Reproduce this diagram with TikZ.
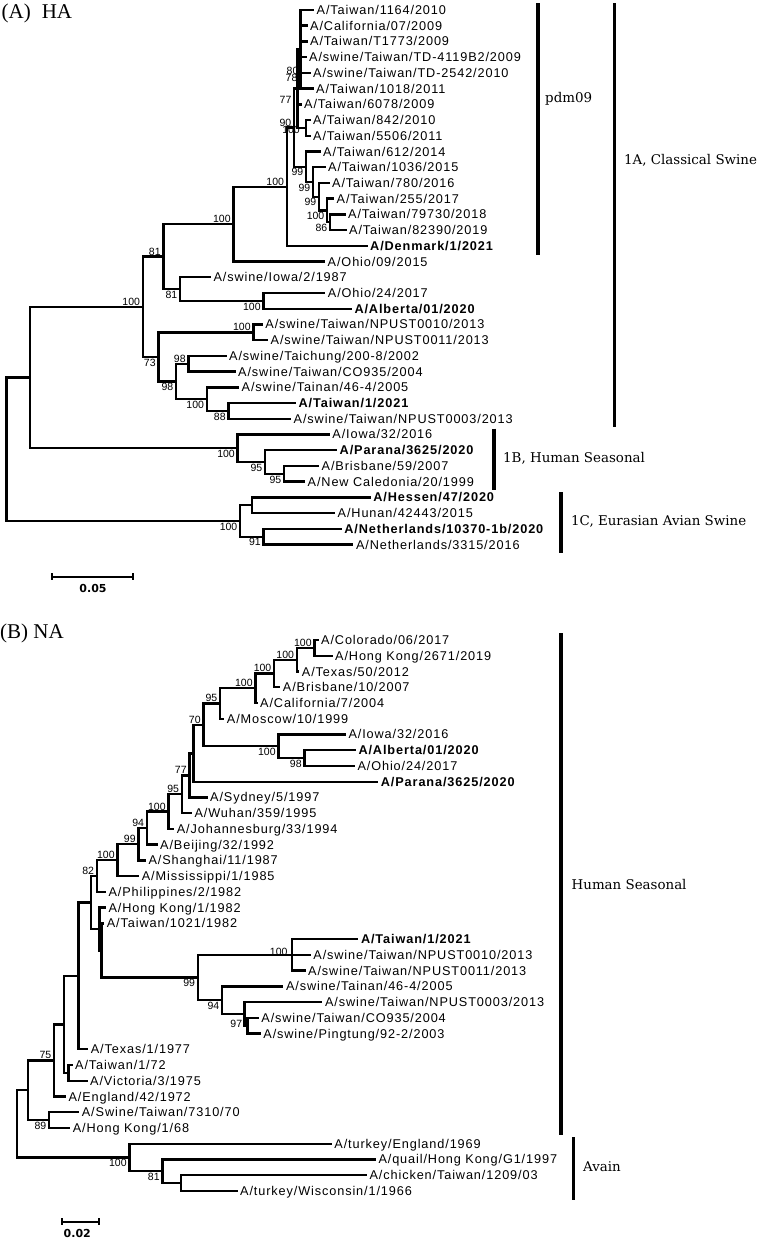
\documentclass[tikz,border=0pt]{standalone}
\usepackage{fontspec}
\newfontfamily\tipff[LetterSpace=7]{Liberation Sans}
\newfontfamily\bsff{Liberation Sans}
\newfontfamily\cladeff{DejaVu Serif}
\newfontfamily\headff{Liberation Serif}
\newfontfamily\scaleff{DejaVu Sans}

\begin{document}
\begin{tikzpicture}[x=1pt,y=-1pt,
    branch/.style={line width=2.4pt},
    cladebar/.style={line width=3.8pt},
    scalebar/.style={line width=2.1pt},
    tip/.style={anchor=west,inner xsep=2.5pt,inner ysep=0pt,text height=9pt,text depth=0pt,font=\tipff\fontsize{12.7}{13}\selectfont},
    btip/.style={tip,font=\tipff\bfseries\fontsize{12.7}{13}\selectfont},
    bs/.style={inner sep=0pt,text height=7.6pt,text depth=0pt,font=\bsff\fontsize{10.5}{11}\selectfont},
    bsup/.style={bs,anchor=south east,xshift=-2.5pt,yshift=1.4pt},
    bsdn/.style={bs,anchor=north east,xshift=-2.5pt,yshift=-1.4pt},
    clade/.style={anchor=west,inner sep=0pt,font=\cladeff\fontsize{13.4}{14}\selectfont},
    head/.style={anchor=base west,inner sep=0pt,font=\headff\fontsize{21}{22}\selectfont},
    scaletext/.style={inner sep=0pt,font=\scaleff\bfseries\fontsize{11}{12}\selectfont}]
  \useasboundingbox (0,0) rectangle (762,1239);

  % ---------------- (A) HA ----------------
  \node[head] (headA) at (1.5,18.5) {(A)\hspace{11pt}HA};

  \coordinate (hRoot) at (6.5,449.2);
  \coordinate (hN1) at (30,377.5);
  \coordinate (hN2) at (142.7,306.7);
  \coordinate (hN3) at (163.3,256.6);
  \coordinate (hN4) at (233.3,224.1);
  \coordinate (hP) at (286.7,186.7);
  \coordinate (hQ) at (294,127.6);
  \coordinate (hQ1) at (297.5,88.6);
  \coordinate (hQ2) at (300.5,49.3);
  \coordinate (hK) at (306,127.9);
  \coordinate (hR) at (306,166.7);
  \coordinate (hS) at (313,181.9);
  \coordinate (hT) at (319,196.7);
  \coordinate (hU) at (327,210.4);
  \coordinate (hV) at (330,222.2);
  \coordinate (hN7) at (180,289);
  \coordinate (hN8) at (263.3,300.8);
  \coordinate (hN6) at (158.3,356.8);
  \coordinate (hN5) at (253.3,332.3);
  \coordinate (hN9) at (176,381.4);
  \coordinate (hN10) at (188.3,363.7);
  \coordinate (hN11) at (206.7,399.1);
  \coordinate (hN12) at (228.3,410.9);
  \coordinate (hB1) at (237.5,448.2);
  \coordinate (hB2) at (265,462);
  \coordinate (hB3) at (284,473.8);
  \coordinate (hC1) at (240,521);
  \coordinate (hC2) at (252,505.2);
  \coordinate (hC3) at (263.5,536.7);

  \node[tip] (ht1) at (314,10) {A/Taiwan/1164/2010};
  \node[tip] (ht2) at (307.5,25.7) {A/California/07/2009};
  \node[tip] (ht3) at (307.5,41.4) {A/Taiwan/T1773/2009};
  \node[tip] (ht4) at (306.5,57.2) {A/swine/Taiwan/TD-4119B2/2009};
  \node[tip] (ht5) at (310.5,72.9) {A/swine/Taiwan/TD-2542/2010};
  \node[tip] (ht6) at (313.5,88.6) {A/Taiwan/1018/2011};
  \node[tip] (ht7) at (301.5,104.3) {A/Taiwan/6078/2009};
  \node[tip] (ht8) at (310.5,120) {A/Taiwan/842/2010};
  \node[tip] (ht9) at (310.5,135.8) {A/Taiwan/5506/2011};
  \node[tip] (ht10) at (320.5,151.5) {A/Taiwan/612/2014};
  \node[tip] (ht11) at (325.5,167.2) {A/Taiwan/1036/2015};
  \node[tip] (ht12) at (329.5,182.9) {A/Taiwan/780/2016};
  \node[tip] (ht13) at (334,198.6) {A/Taiwan/255/2017};
  \node[tip] (ht14) at (345.5,214.4) {A/Taiwan/79730/2018};
  \node[tip] (ht15) at (346.5,230.1) {A/Taiwan/82390/2019};
  \node[btip] (ht16) at (367.5,245.8) {A/Denmark/1/2021};
  \node[tip] (ht17) at (325,261.5) {A/Ohio/09/2015};
  \node[tip] (ht18) at (210.8,277.2) {A/swine/Iowa/2/1987};
  \node[tip] (ht19) at (325.2,293) {A/Ohio/24/2017};
  \node[btip] (ht20) at (351.8,308.7) {A/Alberta/01/2020};
  \node[tip] (ht21) at (262.7,324.4) {A/swine/Taiwan/NPUST0010/2013};
  \node[tip] (ht22) at (268,340.1) {A/swine/Taiwan/NPUST0011/2013};
  \node[tip] (ht23) at (226.5,355.8) {A/swine/Taichung/200-8/2002};
  \node[tip] (ht24) at (235.5,371.6) {A/swine/Taiwan/CO935/2004};
  \node[tip] (ht25) at (239,387.3) {A/swine/Tainan/46-4/2005};
  \node[btip] (ht26) at (296,403) {A/Taiwan/1/2021};
  \node[tip] (ht27) at (291,418.7) {A/swine/Taiwan/NPUST0003/2013};
  \node[tip] (ht28) at (329.7,434.4) {A/Iowa/32/2016};
  \node[btip] (ht29) at (337,450.2) {A/Parana/3625/2020};
  \node[tip] (ht30) at (319,465.9) {A/Brisbane/59/2007};
  \node[tip] (ht31) at (305,481.6) {A/New Caledonia/20/1999};
  \node[btip] (ht32) at (370.7,497.3) {A/Hessen/47/2020};
  \node[tip] (ht33) at (335,513) {A/Hunan/42443/2015};
  \node[btip] (ht34) at (341.7,528.8) {A/Netherlands/10370-1b/2020};
  \node[tip] (ht35) at (353.3,544.5) {A/Netherlands/3315/2016};

  \foreach \a/\b in {hRoot/hN1,hRoot/hC1,hN1/hN2,hN1/hB1,hN2/hN3,hN2/hN6,hN3/hN4,hN3/hN7,
      hN4/hP,hN4/ht17,hP/hQ,hP/ht16,hQ/hQ1,hQ/hR,hQ1/hQ2,hQ1/ht7,hQ1/hK,
      hQ2/ht1,hQ2/ht2,hQ2/ht3,hQ2/ht4,hQ2/ht5,hQ2/ht6,hK/ht8,hK/ht9,
      hR/ht10,hR/hS,hS/ht11,hS/hT,hT/ht12,hT/hU,hU/ht13,hU/hV,hV/ht14,hV/ht15,
      hN7/ht18,hN7/hN8,hN8/ht19,hN8/ht20,hN6/hN5,hN6/hN9,hN5/ht21,hN5/ht22,
      hN9/hN10,hN9/hN11,hN10/ht23,hN10/ht24,hN11/ht25,hN11/hN12,hN12/ht26,hN12/ht27,
      hB1/ht28,hB1/hB2,hB2/ht29,hB2/hB3,hB3/ht30,hB3/ht31,
      hC1/hC2,hC1/hC3,hC2/ht32,hC2/ht33,hC3/ht34,hC3/ht35}
    \draw[branch] (\a) |- (\b);

  % bootstrap values
  \node[bsup] (hsN2) at (hN2) {100};
  \node[bsup] (hsN3) at (hN3) {81};
  \node[bsup] (hsN4) at (hN4) {100};
  \node[bsup] (hsP) at (hP) {100};
  \node[bsup] (hsQ) at (hQ) {90};
  \node[bs,anchor=east,xshift=-6pt,yshift=-2pt] (hsK) at (hK) {100};
  \node[bs] (hsQ1) at (285.5,100) {77};
  \node[bs] (hsA) at (292.5,71) {80};
  \node[bs] (hsB) at (291.5,78) {78};
  \node[bsdn] (hsR) at (hR) {99};
  \node[bsdn] (hsS) at (hS) {99};
  \node[bsdn] (hsT) at (hT) {99};
  \node[bsdn] (hsU) at (hU) {100};
  \node[bsdn] (hsV) at (hV) {86};
  \node[bsdn] (hsN7) at (hN7) {81};
  \node[bsdn] (hsN8) at (hN8) {100};
  \node[bsup] (hsN5) at (hN5) {100};
  \node[bsdn] (hsN6) at (hN6) {73};
  \node[bsup] (hsN10) at (hN10) {98};
  \node[bsdn] (hsN9) at (hN9) {98};
  \node[bsdn] (hsN11) at (hN11) {100};
  \node[bsdn] (hsN12) at (hN12) {88};
  \node[bsdn] (hsB1) at (hB1) {100};
  \node[bsdn] (hsB2) at (hB2) {95};
  \node[bsdn] (hsB3) at (hB3) {95};
  \node[bsdn] (hsC1) at (hC1) {100};
  \node[bsdn] (hsC3) at (hC3) {91};

  % clade bars
  \coordinate (pdmTop) at (538,3.5);   \coordinate (pdmBot) at (538,255);
  \coordinate (oneATop) at (614.5,3.5); \coordinate (oneABot) at (614.5,426.5);
  \coordinate (oneBTop) at (494,428.5); \coordinate (oneBBot) at (494,489.5);
  \coordinate (oneCTop) at (561,492);   \coordinate (oneCBot) at (561,553);
  \draw[cladebar] (pdmTop) -- (pdmBot);
  \draw[cladebar] (oneATop) -- (oneABot);
  \draw[cladebar] (oneBTop) -- (oneBBot);
  \draw[cladebar] (oneCTop) -- (oneCBot);
  \node[clade] (pdmLab) at (545,99) {pdm09};
  \node[clade] (oneALab) at (624,160) {1A, Classical Swine};
  \node[clade] (oneBLab) at (503,458) {1B, Human Seasonal};
  \node[clade] (oneCLab) at (571,521) {1C, Eurasian Avian Swine};

  % scale
  \coordinate (hsc0) at (51.7,576.7); \coordinate (hsc1) at (133.3,576.7);
  \draw[scalebar] (hsc0) -- (hsc1);
  \draw[scalebar] ([yshift=3.6pt]hsc0) -- ([yshift=-3.6pt]hsc0);
  \draw[scalebar] ([yshift=3.6pt]hsc1) -- ([yshift=-3.6pt]hsc1);
  \node[scaletext] (hscLab) at (93,588) {0.05};

  % ---------------- (B) NA ----------------
  \node[head] (headB) at (0,638.3) {(B) NA};

  \coordinate (nRoot) at (16.7,1123.8);
  \coordinate (nD1) at (27.7,1090.2);
  \coordinate (nD2) at (54,1060.4);
  \coordinate (nD3) at (49,1120.1);
  \coordinate (nD4) at (64,1024.4);
  \coordinate (nD5) at (68.3,1072.8);
  \coordinate (nD6) at (78.5,975.9);
  \coordinate (nA17) at (90.7,902.5);
  \coordinate (nA16) at (96.7,876);
  \coordinate (nA18) at (99.3,929);
  \coordinate (nA19) at (101.5,950.4);
  \coordinate (nA15) at (117.3,860.2);
  \coordinate (nA14) at (138.3,844.2);
  \coordinate (nA13) at (146.7,828.1);
  \coordinate (nA12) at (168.3,811.6);
  \coordinate (nA11) at (181.7,794.2);
  \coordinate (nA10) at (189.3,775.4);
  \coordinate (nA9) at (193.3,753.3);
  \coordinate (nA6) at (203.3,724.9);
  \coordinate (nA5) at (220,703.5);
  \coordinate (nA4) at (255.3,688.2);
  \coordinate (nA3) at (274,673.4);
  \coordinate (nA2) at (296.7,659.7);
  \coordinate (nA1) at (314.3,647.9);
  \coordinate (nA7) at (278.3,746.2);
  \coordinate (nA8) at (304.3,758.1);
  \coordinate (nB1) at (197.7,977.4);
  \coordinate (nB2) at (291.7,954.8);
  \coordinate (nB3) at (222,1000);
  \coordinate (nB4) at (244.5,1013.8);
  \coordinate (nB5) at (247.3,1025.6);
  \coordinate (nC1) at (129.3,1157.5);
  \coordinate (nC2) at (162.3,1171.2);
  \coordinate (nC3) at (181,1183);

  \node[tip] (nt1) at (318.5,640) {A/Colorado/06/2017};
  \node[tip] (nt2) at (332.5,655.7) {A/Hong Kong/2671/2019};
  \node[tip] (nt3) at (299.2,671.5) {A/Texas/50/2012};
  \node[tip] (nt4) at (280.2,687.2) {A/Brisbane/10/2007};
  \node[tip] (nt5) at (257.5,703) {A/California/7/2004};
  \node[tip] (nt6) at (224.2,718.7) {A/Moscow/10/1999};
  \node[tip] (nt7) at (345.8,734.4) {A/Iowa/32/2016};
  \node[btip] (nt8) at (355.8,750.2) {A/Alberta/01/2020};
  \node[tip] (nt9) at (354.8,765.9) {A/Ohio/24/2017};
  \node[btip] (nt10) at (378.2,781.7) {A/Parana/3625/2020};
  \node[tip] (nt11) at (207.5,797.4) {A/Sydney/5/1997};
  \node[tip] (nt12) at (191.8,813.1) {A/Wuhan/359/1995};
  \node[tip] (nt13) at (174.2,828.9) {A/Johannesburg/33/1994};
  \node[tip] (nt14) at (157.5,844.6) {A/Beijing/32/1992};
  \node[tip] (nt15) at (145.8,860.4) {A/Shanghai/11/1987};
  \node[tip] (nt16) at (139.2,876.1) {A/Mississippi/1/1985};
  \node[tip] (nt17) at (105.8,891.8) {A/Philippines/2/1982};
  \node[tip] (nt18) at (105.8,907.6) {A/Hong Kong/1/1982};
  \node[tip] (nt19) at (104.2,923.3) {A/Taiwan/1021/1982};
  \node[btip] (nt20) at (358.3,939.1) {A/Taiwan/1/2021};
  \node[tip] (nt21) at (310.7,954.8) {A/swine/Taiwan/NPUST0010/2013};
  \node[tip] (nt22) at (305.5,970.5) {A/swine/Taiwan/NPUST0011/2013};
  \node[tip] (nt23) at (283.3,986.3) {A/swine/Tainan/46-4/2005};
  \node[tip] (nt24) at (322.4,1002) {A/swine/Taiwan/NPUST0003/2013};
  \node[tip] (nt25) at (258.7,1017.8) {A/swine/Taiwan/CO935/2004};
  \node[tip] (nt26) at (260.7,1033.5) {A/swine/Pingtung/92-2/2003};
  \node[tip] (nt27) at (88.2,1049.2) {A/Texas/1/1977};
  \node[tip] (nt28) at (72.5,1065) {A/Taiwan/1/72};
  \node[tip] (nt29) at (87.5,1080.7) {A/Victoria/3/1975};
  \node[tip] (nt30) at (65.8,1096.5) {A/England/42/1972};
  \node[tip] (nt31) at (79.2,1112.2) {A/Swine/Taiwan/7310/70};
  \node[tip] (nt32) at (70.2,1127.9) {A/Hong Kong/1/68};
  \node[tip] (nt33) at (331.7,1143.7) {A/turkey/England/1969};
  \node[tip] (nt34) at (375.8,1159.4) {A/quail/Hong Kong/G1/1997};
  \node[tip] (nt35) at (366.9,1175.2) {A/chicken/Taiwan/1209/03};
  \node[tip] (nt36) at (237.5,1190.9) {A/turkey/Wisconsin/1/1966};

  \foreach \a/\b in {nRoot/nD1,nRoot/nC1,nD1/nD2,nD1/nD3,nD2/nD4,nD2/nt30,nD3/nt31,nD3/nt32,
      nD4/nD6,nD4/nD5,nD5/nt28,nD5/nt29,nD6/nA17,nD6/nt27,nA17/nA16,nA17/nA18,
      nA16/nA15,nA16/nt17,nA15/nA14,nA15/nt16,nA14/nA13,nA14/nt15,nA13/nA12,nA13/nt14,
      nA12/nA11,nA12/nt13,nA11/nA10,nA11/nt12,nA10/nA9,nA10/nt11,nA9/nA6,nA9/nt10,
      nA6/nA5,nA6/nA7,nA5/nA4,nA5/nt6,nA4/nA3,nA4/nt5,nA3/nA2,nA3/nt4,nA2/nA1,nA2/nt3,
      nA1/nt1,nA1/nt2,nA7/nt7,nA7/nA8,nA8/nt8,nA8/nt9,
      nA18/nt18,nA18/nA19,nA19/nt19,nA19/nB1,nB1/nB2,nB1/nB3,nB2/nt20,nB2/nt21,nB2/nt22,
      nB3/nt23,nB3/nB4,nB4/nt24,nB4/nB5,nB5/nt25,nB5/nt26,
      nC1/nt33,nC1/nC2,nC2/nt34,nC2/nC3,nC3/nt35,nC3/nt36}
    \draw[branch] (\a) |- (\b);

  % bootstrap values
  \node[bsup] (nsA1) at (nA1) {100};
  \node[bsup] (nsA2) at (nA2) {100};
  \node[bsup] (nsA3) at (nA3) {100};
  \node[bsup] (nsA4) at (nA4) {100};
  \node[bsup] (nsA5) at (nA5) {95};
  \node[bsup] (nsA6) at (nA6) {70};
  \node[bsdn] (nsA7) at (nA7) {100};
  \node[bsdn] (nsA8) at (nA8) {98};
  \node[bsup] (nsA10) at (nA10) {77};
  \node[bsup] (nsA11) at (nA11) {95};
  \node[bsup] (nsA12) at (nA12) {100};
  \node[bsup] (nsA13) at (nA13) {94};
  \node[bsup] (nsA14) at (nA14) {99};
  \node[bsup] (nsA15) at (nA15) {100};
  \node[bsup] (nsA16) at (nA16) {82};
  \node[bsdn] (nsB1) at (nB1) {99};
  \node[bs,anchor=east,xshift=-4pt,yshift=3pt] (nsB2) at (nB2) {100};
  \node[bsdn] (nsB3) at (nB3) {94};
  \node[bs,anchor=east,xshift=-5pt,yshift=2pt] (nsB5) at (nB5) {97};
  \node[bsup] (nsD2) at (nD2) {75};
  \node[bsdn] (nsD3) at (nD3) {89};
  \node[bsdn] (nsC1) at (nC1) {100};
  \node[bsdn] (nsC2) at (nC2) {81};

  % clade bars
  \coordinate (hsTop) at (561,633);  \coordinate (hsBot) at (561,1135);
  \coordinate (avTop) at (573.5,1137); \coordinate (avBot) at (573.5,1200);
  \draw[cladebar] (hsTop) -- (hsBot);
  \draw[cladebar] (avTop) -- (avBot);
  \node[clade] (hsLab) at (571.5,884) {Human Seasonal};
  \node[clade] (avLab) at (583,1167) {Avain};

  % scale
  \coordinate (nsc0) at (61.7,1221.7); \coordinate (nsc1) at (99.3,1221.7);
  \draw[scalebar] (nsc0) -- (nsc1);
  \draw[scalebar] ([yshift=3.6pt]nsc0) -- ([yshift=-3.6pt]nsc0);
  \draw[scalebar] ([yshift=3.6pt]nsc1) -- ([yshift=-3.6pt]nsc1);
  \node[scaletext] (nscLab) at (77.3,1233.3) {0.02};
\end{tikzpicture}
\end{document}
